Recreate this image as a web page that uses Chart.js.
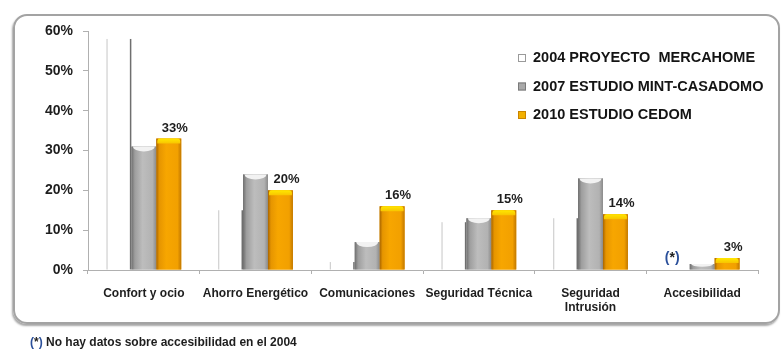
<!DOCTYPE html>
<html>
<head>
<meta charset="utf-8">
<script src="https://cdn.jsdelivr.net/npm/chart.js@4.4.1/dist/chart.umd.min.js"></script>
<style>
  html, body { margin: 0; padding: 0; background: #fff; }
  #wrap { position: relative; width: 781px; height: 351px; overflow: hidden; }
  #frame {
    position: absolute; left: 13px; top: 14px; width: 767px; height: 310px;
    box-sizing: border-box; border: 2px solid #a3a3a3; border-radius: 14px;
    box-shadow: -1px 2px 2px rgba(0, 0, 0, 0.35);
  }
  #canvas { position: absolute; left: 0; top: 0; }
</style>
</head>
<body>
<div id="wrap">
  <div id="frame"></div>
  <canvas id="canvas" width="781" height="351"></canvas>
</div>
<script>
const categories = ['Confort y ocio', 'Ahorro Energético', 'Comunicaciones', 'Seguridad Técnica', ['Seguridad', 'Intrusión'], 'Accesibilidad']
const seriesNames = ['2004 PROYECTO  MERCAHOME', '2007 ESTUDIO MINT-CASADOMO', '2010 ESTUDIO CEDOM']
const values2004 = [58, 15, 2, 12, 13, null]
const values2007 = [31, 24, 7, 13, 23, 1.5]
const values2010 = [33, 20, 16, 15, 14, 3]
const yMax = 60
const yStep = 10
const footnote = 'No hay datos sobre accesibilidad en el 2004'

const FONT = "'Liberation Sans', Arial, sans-serif"
const BLUE = '#2a4f9a'

// shading, caps, labels and legend drawn over the plain bars
const decor = {
  id: 'decor',
  afterDatasetsDraw(chart) {
    const ctx = chart.ctx
    const area = chart.chartArea
    ctx.save()

    chart.getDatasetMeta(0).data.forEach((bar, i) => {
      if (values2004[i] == null) return
      const { x, y, base, width } = bar.getProps(['x', 'y', 'base', 'width'], true)
      const l = x - width / 2
      ctx.fillStyle = '#fff'
      ctx.fillRect(l, y, width, base - y)
      ctx.fillStyle = '#d0d0d0'
      ctx.fillRect(l, y, 1.2, base - y)
      ctx.fillStyle = '#6f6f6f'
      ctx.fillRect(l + width - 1.5, y, 1.5, base - y)
    })

    chart.getDatasetMeta(1).data.forEach((bar, i) => {
      const { x, y, base, width } = bar.getProps(['x', 'y', 'base', 'width'], true)
      const l = x - width / 2
      const g = ctx.createLinearGradient(l, 0, l + width, 0)
      g.addColorStop(0, '#6e6e6e')
      g.addColorStop(0.14, '#9e9e9e')
      g.addColorStop(0.45, '#bdbdbd')
      g.addColorStop(0.85, '#b2b2b2')
      g.addColorStop(1, '#8a8a8a')
      ctx.fillStyle = g
      ctx.fillRect(l, y, width, base - y)
      // hollow top
      const ry = Math.min(5, (base - y) / 2)
      ctx.fillStyle = '#f2f2f2'
      ctx.beginPath()
      ctx.ellipse(x, y, width / 2 - 1.5, ry, 0, 0, Math.PI)
      ctx.fill()
    })

    chart.getDatasetMeta(2).data.forEach((bar, i) => {
      const { x, y, base, width } = bar.getProps(['x', 'y', 'base', 'width'], true)
      const l = x - width / 2
      const g = ctx.createLinearGradient(l, 0, l + width, 0)
      g.addColorStop(0, '#a86400')
      g.addColorStop(0.12, '#e69500')
      g.addColorStop(0.4, '#f7a600')
      g.addColorStop(0.85, '#f2a000')
      g.addColorStop(1, '#c27800')
      ctx.fillStyle = g
      ctx.fillRect(l, y, width, base - y)
      // yellow cap
      const cap = Math.min(5, (base - y) / 2)
      const cg = ctx.createLinearGradient(0, y, 0, y + cap)
      cg.addColorStop(0, '#ffe800')
      cg.addColorStop(1, '#f8c400')
      ctx.fillStyle = cg
      ctx.beginPath()
      ctx.roundRect(l + 1, y, width - 2, cap, [3, 3, 0, 0])
      ctx.fill()

      ctx.fillStyle = '#1e1e1e'
      ctx.font = 'bold 13px ' + FONT
      ctx.textAlign = 'center'
      ctx.textBaseline = 'bottom'
      ctx.fillText(values2010[i] + '%', x + 6, y - 4)
    })

    // note marker where the 2004 value is missing
    chart.getDatasetMeta(0).data.forEach((bar, i) => {
      if (values2004[i] != null) return
      drawNote(ctx, bar.x - 5, area.bottom - 12, 'bold 14px ' + FONT, 'center')
    })

    // legend
    const colors = [['#ffffff', '#9a9a9a'], ['#a9a9a9', '#7a7a7a'], ['#f2b000', '#c98400']]
    ctx.font = 'bold 14.5px ' + FONT
    ctx.textAlign = 'left'
    ctx.textBaseline = 'middle'
    seriesNames.forEach((name, k) => {
      const cy = 58 + k * 28.5
      ctx.fillStyle = colors[k][0]
      ctx.fillRect(518, cy - 4, 8, 8)
      ctx.strokeStyle = colors[k][1]
      ctx.lineWidth = 1
      ctx.strokeRect(518.5, cy - 3.5, 7, 7)
      ctx.fillStyle = '#141414'
      ctx.fillText(name, 533, cy)
    })

    // footnote under the frame
    const endX = drawNote(ctx, 30, 343, 'bold 12px ' + FONT, 'left')
    ctx.fillStyle = '#1e1e1e'
    ctx.font = 'bold 12px ' + FONT
    ctx.textAlign = 'left'
    ctx.textBaseline = 'middle'
    ctx.fillText(' ' + footnote, endX, 343)

    ctx.restore()
  }
}

function drawNote(ctx, x, y, font, align) {
  ctx.font = font
  ctx.textBaseline = 'middle'
  ctx.textAlign = 'left'
  const parts = [['(', BLUE], ['*', '#1e1e1e'], [')', BLUE]]
  const total = parts.reduce((s, p) => s + ctx.measureText(p[0]).width, 0)
  let cx = align === 'center' ? x - total / 2 : x
  parts.forEach(([t, c]) => {
    ctx.fillStyle = c
    ctx.fillText(t, cx, y)
    cx += ctx.measureText(t).width
  })
  return cx
}

const data = {
  labels: categories,
  datasets: [
    { label: seriesNames[0], data: values2004, backgroundColor: '#ffffff' },
    { label: seriesNames[1], data: values2007, backgroundColor: '#b4b4b4' },
    { label: seriesNames[2], data: values2010, backgroundColor: '#f5a300' },
  ],
}

const config = {
  type: 'bar',
  data: data,
  options: {
    responsive: false,
    animation: false,
    layout: { padding: { top: 31, right: 23, left: 0, bottom: 0 } },
    datasets: { bar: { categoryPercentage: 0.67, barPercentage: 1 } },
    plugins: { legend: { display: false }, tooltip: { enabled: false } },
    scales: {
      x: {
        grid: { drawOnChartArea: false, tickLength: 4, color: '#b0b0b0' },
        border: { color: '#b0b0b0' },
        ticks: { padding: 12, color: '#1e1e1e', maxRotation: 0, autoSkip: false, font: { family: FONT, size: 12, weight: 'bold' } },
        afterFit(scale) { scale.height = 81 },
      },
      y: {
        min: 0,
        max: yMax,
        grid: { drawOnChartArea: false, tickLength: 5, color: '#b0b0b0' },
        border: { color: '#b0b0b0' },
        ticks: { stepSize: yStep, padding: 10, color: '#1e1e1e', font: { family: FONT, size: 14, weight: 'bold' }, callback: v => v + '%' },
        afterFit(scale) { scale.width = 88 },
      },
    },
  },
  plugins: [decor],
}

const canvas = document.getElementById('canvas')
const chart = new Chart(canvas, config)
</script>
</body>
</html>
